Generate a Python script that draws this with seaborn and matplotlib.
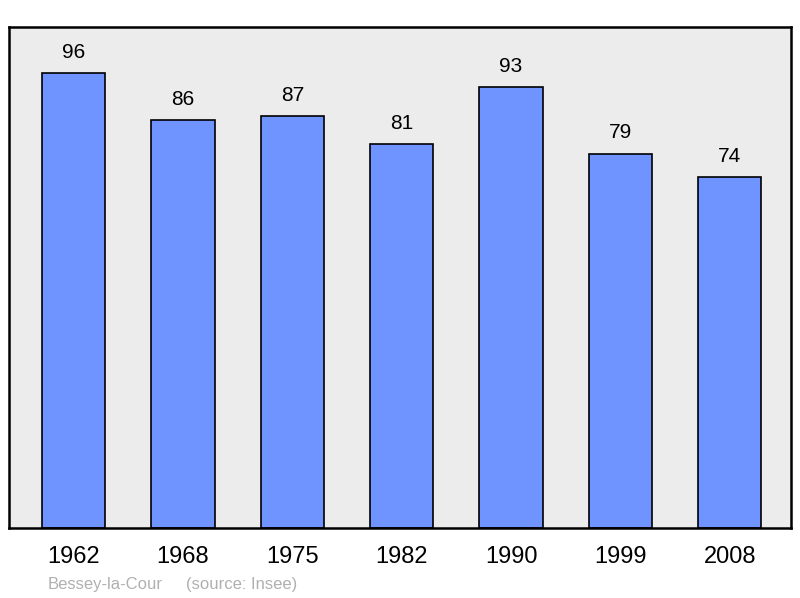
import matplotlib
matplotlib.use("Agg")
import matplotlib.pyplot as plt
import seaborn as sns
import pandas as pd

years = ["1962", "1968", "1975", "1982", "1990", "1999", "2008"]
population = [96, 86, 87, 81, 93, 79, 74]

sns.set_theme(style="white")
plt.rcParams["font.family"] = ["Liberation Sans", "DejaVu Sans"]

df = pd.DataFrame({"year": years, "pop": population})

fig = plt.figure(figsize=(8, 5.98), dpi=100)
ax = fig.add_axes([9 / 800, 70 / 598, 782 / 800, 501 / 598])
ax.set_facecolor("#ececec")

sns.barplot(data=df, x="year", y="pop", color="#7094ff", saturation=1,
            width=0.58, edgecolor="black", linewidth=1.2, ax=ax)

for i, v in enumerate(population):
    ax.annotate(f"{v}", (i, v), xytext=(0, 8), textcoords="offset points",
                ha="center", va="bottom", fontsize=15, color="black")

ax.set_ylim(0, 105.7)
ax.set_xlim(-0.59, 6.56)
ax.set_yticks([])
ax.set_xlabel("")
ax.set_ylabel("")
ax.tick_params(axis="x", length=0, pad=13, labelsize=17, labelcolor="black")
for s in ax.spines.values():
    s.set_visible(True)
    s.set_color("black")
    s.set_linewidth(1.8)

fig.text(48 / 800, 1 - 584 / 598, "Bessey-la-Cour", fontsize=12,
         color="#b0b0b0", va="center", ha="left")
fig.text(186 / 800, 1 - 584 / 598, "(source: Insee)", fontsize=12,
         color="#b0b0b0", va="center", ha="left")

fig.savefig("out.png", dpi=100)
